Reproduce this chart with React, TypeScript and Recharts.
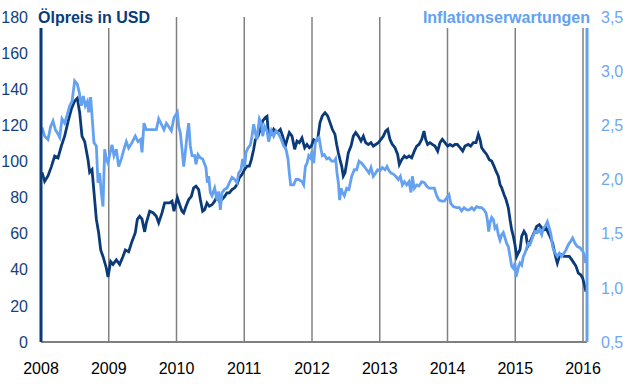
import { LineChart, Line, XAxis, YAxis, CartesianGrid } from 'recharts';

// Ölpreis (USD), left axis
const oilDates = [
  2008.015, 2008.054, 2008.103, 2008.152, 2008.202, 2008.251, 2008.3, 2008.349, 2008.399, 2008.448,
  2008.497, 2008.536, 2008.571, 2008.605, 2008.645, 2008.694, 2008.718, 2008.753, 2008.782, 2008.817,
  2008.851, 2008.881, 2008.915, 2008.964, 2008.989, 2009.028, 2009.063, 2009.112, 2009.161, 2009.21,
  2009.245, 2009.294, 2009.343, 2009.392, 2009.422, 2009.456, 2009.491, 2009.53, 2009.555, 2009.604,
  2009.653, 2009.702, 2009.737, 2009.786, 2009.825, 2009.899, 2009.934, 2009.963, 2010.012, 2010.047,
  2010.081,
  2010.106, 2010.14, 2010.18, 2010.219, 2010.253, 2010.288, 2010.327, 2010.352, 2010.386, 2010.416,
  2010.45, 2010.485, 2010.524, 2010.563, 2010.598, 2010.632, 2010.672, 2010.711, 2010.745, 2010.78,
  2010.819, 2010.859, 2010.893, 2010.927, 2010.967, 2011.006, 2011.041, 2011.075, 2011.105, 2011.139,
  2011.164, 2011.203, 2011.237, 2011.272, 2011.311, 2011.336, 2011.36, 2011.4, 2011.434, 2011.469,
  2011.508, 2011.533, 2011.567, 2011.606, 2011.631, 2011.665, 2011.705, 2011.744, 2011.779, 2011.813,
  2011.852, 2011.892, 2011.926, 2011.961, 2011.99, 2012.025, 2012.059,
  2012.084, 2012.118, 2012.152, 2012.192, 2012.231, 2012.266, 2012.3, 2012.339, 2012.364, 2012.389,
  2012.413, 2012.438, 2012.462, 2012.487, 2012.512, 2012.536, 2012.576, 2012.61, 2012.645, 2012.684,
  2012.723, 2012.758, 2012.792, 2012.831, 2012.871, 2012.905, 2012.94, 2012.979, 2013.018, 2013.053,
  2013.087, 2013.117, 2013.151, 2013.186, 2013.225, 2013.264, 2013.289, 2013.324, 2013.363, 2013.397,
  2013.432, 2013.471, 2013.51, 2013.545, 2013.579, 2013.619, 2013.653, 2013.678, 2013.707, 2013.742,
  2013.776, 2013.815, 2013.855, 2013.889, 2013.924, 2013.963, 2014.002, 2014.037,
  2014.076, 2014.111, 2014.145, 2014.185, 2014.224, 2014.258, 2014.307, 2014.342, 2014.381, 2014.421,
  2014.455, 2014.48, 2014.504, 2014.539, 2014.578, 2014.617, 2014.652, 2014.686, 2014.716, 2014.75,
  2014.775, 2014.8, 2014.834, 2014.864, 2014.898, 2014.923, 2014.947, 2014.972, 2014.996, 2015.021,
  2015.045, 2015.07, 2015.095, 2015.129, 2015.159, 2015.183, 2015.208, 2015.242, 2015.277, 2015.316,
  2015.355, 2015.39, 2015.424, 2015.454, 2015.488, 2015.523, 2015.552, 2015.577, 2015.601, 2015.621,
  2015.651, 2015.685, 2015.72, 2015.759, 2015.798, 2015.833, 2015.867, 2015.897, 2015.931, 2015.966,
  2015.995, 2016.02, 2016.044,
];
const oilValues = [
  94, 89, 92, 97, 103, 102, 108.5, 114, 122, 129,
  133.5, 135, 127, 114, 111, 101, 94, 95.5, 83, 68,
  60.5, 51, 47.4, 41, 36, 44.6, 43, 45.5, 43, 47.4,
  51, 50, 55.7, 60.5, 68, 69.6, 68, 61, 66, 72.4,
  71.6, 69.6, 66, 71.5, 77, 77, 78, 72.4, 80, 76,
  72.4,
  71.5, 75.2, 78.9, 80.7, 85.4, 86.3, 84.4, 78.9, 72.4, 73.3,
  77, 75.2, 76, 78, 80.7, 78, 78.9, 80.7, 82.6, 82.6,
  84.4, 85.4, 87.2, 90.9, 92.8, 95.6, 97.4, 97.4, 101, 106.7,
  112, 114, 117.8, 122.4, 124.3, 125, 114, 115, 117.8, 116,
  116.8, 117.8, 114, 108.5, 112, 116, 114, 106.7, 111.3, 110.4,
  113, 107.6, 109.4, 107.6, 108.5, 112, 111.3,
  112.2, 121.5, 125.2, 127, 125.2, 121.5, 117.8, 115, 109.4, 104.8,
  101, 97.4, 91.9, 93.7, 99.3, 104.8, 108.5, 114, 116, 114,
  111.3, 114, 110.4, 109.4, 110.4, 108.5, 109.4, 110.4, 112.2, 114,
  116.8, 117.8, 112.2, 109.4, 107.6, 103.9, 98.3, 101, 103, 102,
  103, 102, 105.7, 108.5, 109.4, 112.2, 116.8, 112.2, 109.4, 110.4,
  109.4, 108.5, 105.7, 110.4, 112.2, 110.4, 108.5, 109.4,
  108.5, 109.4, 109.4, 107.6, 105.7, 108.5, 109.4, 108.5, 110.4, 110.4,
  115, 112.2, 107.6, 105.7, 103.9, 101, 100.2, 97.4, 94.6, 91.9,
  87.2, 85.4, 81.7, 78.9, 74.3, 67.8, 62.2, 58.5, 53.9, 47.4,
  49.3, 51.1, 58.5, 61.3, 59.4, 52.9, 54.8, 57.6, 60.4, 64,
  65, 63.2, 62.2, 63.2, 60.4, 57.6, 54.8, 50.2, 46.5, 43.7,
  47.4, 48.3, 47.4, 47.4, 47.4, 45.6, 43.7, 41.9, 38.1, 37.2,
  35.4, 31.7, 27.9,
];

// Inflationserwartungen (%), right axis
const inflDates = [
  2008.015, 2008.054, 2008.103, 2008.143, 2008.177, 2008.212, 2008.251, 2008.276, 2008.31, 2008.349,
  2008.389, 2008.423, 2008.458, 2008.497, 2008.536, 2008.566, 2008.595, 2008.625, 2008.654, 2008.684,
  2008.704, 2008.733, 2008.753, 2008.782, 2008.817, 2008.841, 2008.866, 2008.89, 2008.915, 2008.94,
  2008.964, 2008.989, 2009.014, 2009.048, 2009.077, 2009.112, 2009.146, 2009.186, 2009.225, 2009.259,
  2009.294, 2009.343, 2009.392, 2009.432, 2009.471, 2009.491, 2009.52, 2009.555, 2009.604, 2009.653,
  2009.702, 2009.737, 2009.776, 2009.815, 2009.85, 2009.884, 2009.924, 2009.963, 2010.012, 2010.032,
  2010.057, 2010.081,
  2010.106, 2010.13, 2010.155, 2010.18, 2010.204, 2010.229, 2010.268, 2010.288, 2010.317, 2010.352,
  2010.386, 2010.416, 2010.435, 2010.455, 2010.475, 2010.499, 2010.524, 2010.563, 2010.598, 2010.622,
  2010.647, 2010.672, 2010.711, 2010.745, 2010.78, 2010.819, 2010.859, 2010.893, 2010.918, 2010.952,
  2010.977, 2011.006, 2011.026, 2011.055, 2011.09, 2011.114, 2011.139, 2011.164, 2011.188, 2011.223,
  2011.252, 2011.272, 2011.301, 2011.336, 2011.36, 2011.4, 2011.434, 2011.469, 2011.508, 2011.547,
  2011.582, 2011.616, 2011.646, 2011.665, 2011.685, 2011.729, 2011.764, 2011.803, 2011.852, 2011.877,
  2011.902, 2011.926, 2011.951, 2011.975, 2012.0, 2012.025, 2012.049,
  2012.069, 2012.103, 2012.133, 2012.152, 2012.182, 2012.217, 2012.251, 2012.29, 2012.33, 2012.349,
  2012.369, 2012.389, 2012.408, 2012.428, 2012.448, 2012.477, 2012.512, 2012.546, 2012.586, 2012.625,
  2012.659, 2012.694, 2012.733, 2012.772, 2012.807, 2012.841, 2012.871, 2012.905, 2012.94, 2012.969,
  2013.004, 2013.038, 2013.077, 2013.107, 2013.137, 2013.166, 2013.2, 2013.235, 2013.274, 2013.304,
  2013.333, 2013.363, 2013.397, 2013.432, 2013.461, 2013.481, 2013.51, 2013.545, 2013.579, 2013.619,
  2013.658, 2013.693, 2013.727, 2013.766, 2013.806, 2013.84, 2013.875, 2013.914, 2013.953, 2013.988,
  2014.022,
  2014.047, 2014.086, 2014.135, 2014.175, 2014.209, 2014.244, 2014.283, 2014.322, 2014.357, 2014.391,
  2014.43, 2014.47, 2014.504, 2014.539, 2014.568, 2014.588, 2014.608, 2014.627, 2014.652, 2014.677,
  2014.701, 2014.726, 2014.75, 2014.775, 2014.8, 2014.824, 2014.849, 2014.873, 2014.898, 2014.923,
  2014.947, 2014.972, 2014.996, 2015.011, 2015.031, 2015.05, 2015.07, 2015.095, 2015.119, 2015.144,
  2015.168, 2015.193, 2015.218, 2015.257, 2015.292, 2015.326, 2015.355, 2015.39, 2015.415, 2015.444,
  2015.474, 2015.503, 2015.528, 2015.552, 2015.572, 2015.601, 2015.621, 2015.651, 2015.685, 2015.72,
  2015.749, 2015.784, 2015.818, 2015.847, 2015.882, 2015.916, 2015.956, 2015.995, 2016.015, 2016.039,
];
const inflValues = [
  2.48, 2.4, 2.37, 2.49, 2.54, 2.46, 2.42, 2.39, 2.56, 2.52,
  2.6, 2.68, 2.72, 2.91, 2.88, 2.8, 2.68, 2.77, 2.68, 2.72,
  2.62, 2.76, 2.59, 2.34, 2.31, 1.97, 2.06, 1.88, 1.75, 2.28,
  2.19, 2.15, 2.23, 2.32, 2.22, 2.28, 2.12, 2.19, 2.28, 2.35,
  2.29, 2.34, 2.4, 2.35, 2.37, 2.25, 2.52, 2.46, 2.46, 2.46,
  2.46, 2.56, 2.51, 2.46, 2.52, 2.49, 2.45, 2.57, 2.62, 2.49,
  2.43, 2.28,
  2.12, 2.25, 2.4, 2.52, 2.31, 2.22, 2.22, 2.14, 2.23, 2.2,
  2.19, 2.14, 2.11, 1.97, 2.03, 1.88, 1.85, 1.92, 1.81, 1.89,
  1.72, 1.88, 1.91, 1.92, 1.97, 2.02, 2.0, 1.97, 2.06, 2.09,
  2.19, 2.12, 2.25, 2.29, 2.32, 2.4, 2.51, 2.43, 2.37, 2.56,
  2.52, 2.4, 2.49, 2.45, 2.35, 2.45, 2.4, 2.45, 2.42, 2.37,
  2.31, 2.28, 2.19, 2.06, 1.95, 1.95, 2.0, 2.0, 1.98, 1.95,
  2.12, 2.15, 2.22, 2.2, 2.26, 2.15, 2.34,
  2.37, 2.39, 2.28, 2.22, 2.23, 2.19, 2.2, 2.17, 2.17, 2.19,
  2.06, 1.97, 1.81, 1.92, 1.88, 1.85, 1.92, 1.91, 2.03, 2.09,
  2.09, 2.17, 2.15, 2.12, 2.09, 2.06, 2.11, 2.03, 2.06, 2.09,
  2.08, 2.11, 2.09, 2.12, 2.08, 2.06, 2.05, 2.03, 2.0, 2.03,
  1.95, 1.98, 1.95, 1.98, 1.88, 2.03, 1.92, 1.95, 1.94, 1.98,
  1.97, 1.94, 1.92, 1.92, 1.92, 1.85, 1.81, 1.8, 1.8, 1.83,
  1.86,
  1.78, 1.75, 1.74, 1.74, 1.71, 1.74, 1.72, 1.72, 1.74, 1.72,
  1.75, 1.74, 1.74, 1.72, 1.69, 1.63, 1.52, 1.6, 1.65, 1.63,
  1.55, 1.57, 1.49, 1.44, 1.49, 1.51, 1.46, 1.41, 1.38, 1.29,
  1.2, 1.18, 1.23, 1.1, 1.15, 1.2, 1.23, 1.21, 1.29, 1.32,
  1.37, 1.41, 1.4, 1.47, 1.52, 1.51, 1.54, 1.49, 1.55, 1.57,
  1.61, 1.55, 1.49, 1.38, 1.34, 1.31, 1.29, 1.32, 1.29, 1.32,
  1.35, 1.4, 1.43, 1.46, 1.41, 1.38, 1.37, 1.34, 1.31, 1.23,
];

const yearTicks = [2008, 2009, 2010, 2011, 2012, 2013, 2014, 2015, 2016];
const oilTicks = [0, 20, 40, 60, 80, 100, 120, 140, 160, 180];
const inflTicks = [0.5, 1, 1.5, 2, 2.5, 3, 3.5];

const DARK = '#0a3b78';
const LIGHT = '#64a1f0';
const GRID = '#808080';
const FONT = '"Liberation Sans", Arial, sans-serif';

const chartData = [
  ...oilDates.map((d, i) => ({ date: d, oil: oilValues[i] })),
  ...inflDates.map((d, i) => ({ date: d, infl: inflValues[i] })),
].sort((a, b) => a.date - b.date);

export default function App() {
  return (
    <div style={{ position: 'absolute', left: 0, top: 0, width: 623, height: 385, background: '#fff', fontFamily: FONT }}>
      <LineChart width={623} height={385} data={chartData} margin={{ top: 17, right: 0, bottom: 13, left: 0 }}>
        <CartesianGrid yAxisId="left" horizontal={false} vertical stroke={GRID} strokeWidth={1.5} />
        <XAxis
          dataKey="date"
          type="number"
          domain={[2008, 2016.059]}
          ticks={yearTicks}
          allowDataOverflow
          height={30}
          tickSize={0}
          tickMargin={21}
          tickLine={false}
          axisLine={{ stroke: GRID, strokeWidth: 2 }}
          tick={{ fill: '#000', fontSize: 16, fontFamily: FONT }}
        />
        <YAxis
          yAxisId="left"
          orientation="left"
          width={41}
          domain={[0, 180]}
          ticks={oilTicks}
          tickSize={0}
          tickMargin={13}
          tickLine={false}
          axisLine={{ stroke: DARK, strokeWidth: 3 }}
          tick={{ fill: '#12427f', fontSize: 16, fontFamily: FONT }}
        />
        <YAxis
          yAxisId="right"
          orientation="right"
          width={36}
          domain={[0.5, 3.5]}
          ticks={inflTicks}
          tickSize={0}
          tickMargin={14}
          tickLine={false}
          axisLine={{ stroke: LIGHT, strokeWidth: 3 }}
          tickFormatter={(v: number) => v.toFixed(1).replace('.', ',')}
          tick={{ fill: '#6ea8f2', fontSize: 16, fontFamily: FONT }}
        />
        <Line
          yAxisId="left"
          dataKey="oil"
          type="linear"
          stroke={DARK}
          strokeWidth={2.8}
          dot={false}
          connectNulls
          isAnimationActive={false}
        />
        <Line
          yAxisId="right"
          dataKey="infl"
          type="linear"
          stroke={LIGHT}
          strokeWidth={2.8}
          dot={false}
          connectNulls
          isAnimationActive={false}
        />
      </LineChart>
      <svg width={623} height={385} style={{ position: 'absolute', left: 0, top: 0, pointerEvents: 'none' }}>
        <rect x={36} y={0} width={118} height={28} fill="#fff" />
        <text x={38} y={23} fill={DARK} fontSize={16} fontWeight="bold" fontFamily={FONT}>
          Ölpreis in USD
        </text>
        <rect x={416} y={0} width={176} height={28} fill="#fff" />
        <text x={590} y={23} fill={LIGHT} fontSize={16} fontWeight="bold" fontFamily={FONT} textAnchor="end">
          Inflationserwartungen
        </text>
      </svg>
    </div>
  );
}
